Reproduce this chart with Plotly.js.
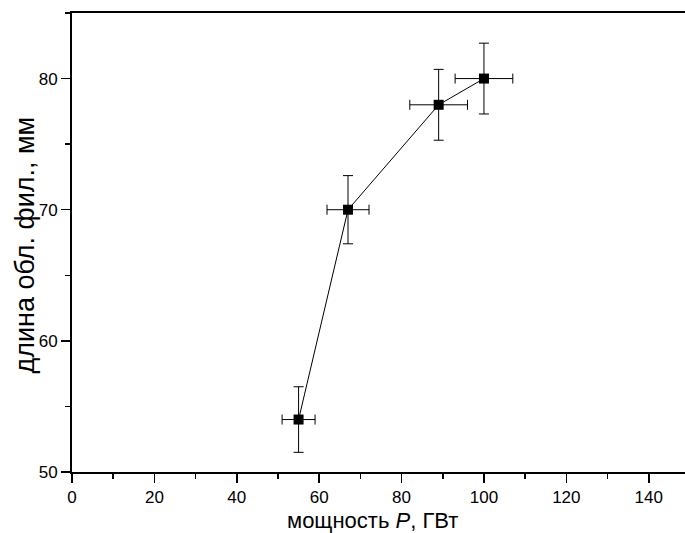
<!DOCTYPE html>
<html>
<head>
<meta charset="utf-8">
<script src="https://cdn.plot.ly/plotly-3.0.1.min.js"></script>
<style>html,body{margin:0;padding:0;background:#fff}#chart{width:685px;height:533px}</style>
</head>
<body>
<div id="chart"></div>
<script>
const power = [55, 67, 89, 100];
const length = [54, 70, 78, 80];
const powerErr = [4, 5.1, 7, 7];
const lengthErr = [2.5, 2.6, 2.7, 2.7];

const fontFam = 'Arial, "Liberation Sans", sans-serif';

const trace = {
  x: power, y: length, type: 'scatter', mode: 'lines+markers',
  line: {color: '#000', width: 1},
  marker: {symbol: 'square', size: 10, color: '#000'},
  error_y: {type: 'data', array: lengthErr, visible: true, color: '#000', thickness: 1, width: 5},
  error_x: {type: 'data', array: powerErr, visible: true, color: '#000', thickness: 1, width: 5}
};

const layout = {
  width: 685, height: 533,
  margin: {l: 72, r: 0, t: 13, b: 61},
  paper_bgcolor: '#fff', plot_bgcolor: '#fff',
  showlegend: false,
  font: {family: fontFam, color: '#000'},
  xaxis: {
    range: [0, 148.8], dtick: 20, tick0: 0,
    ticks: 'outside', ticklen: 9, tickwidth: 1.5, tickcolor: '#000',
    minor: {dtick: 10, ticks: 'outside', ticklen: 5, tickwidth: 1.5, tickcolor: '#000'},
    showline: true, linecolor: '#000', linewidth: 2, mirror: true,
    showgrid: false, zeroline: false,
    tickfont: {size: 17, family: fontFam},
    automargin: false
  },
  yaxis: {
    range: [50, 85], dtick: 10, tick0: 0,
    ticks: 'outside', ticklen: 9, tickwidth: 1.5, tickcolor: '#000',
    minor: {dtick: 5, ticks: 'outside', ticklen: 5, tickwidth: 1.5, tickcolor: '#000'},
    showline: true, linecolor: '#000', linewidth: 2, mirror: false,
    showgrid: false, zeroline: false,
    tickfont: {size: 17, family: fontFam},
    automargin: false
  },
  annotations: [{
    text: 'длина обл. фил., мм', textangle: -90,
    xref: 'paper', yref: 'paper', x: -0.077, y: 0.495,
    xanchor: 'center', yanchor: 'middle', showarrow: false,
    font: {size: 27, family: fontFam, color: '#000'}
  }, {
    text: 'мощность <i>P</i>, ГВт',
    xref: 'paper', yref: 'paper', x: 0.49, y: -0.106,
    xanchor: 'center', yanchor: 'middle', showarrow: false,
    font: {size: 22, family: fontFam, color: '#000'}
  }]
};

Plotly.newPlot('chart', [trace], layout, {displayModeBar: false, staticPlot: true});
</script>
</body>
</html>
